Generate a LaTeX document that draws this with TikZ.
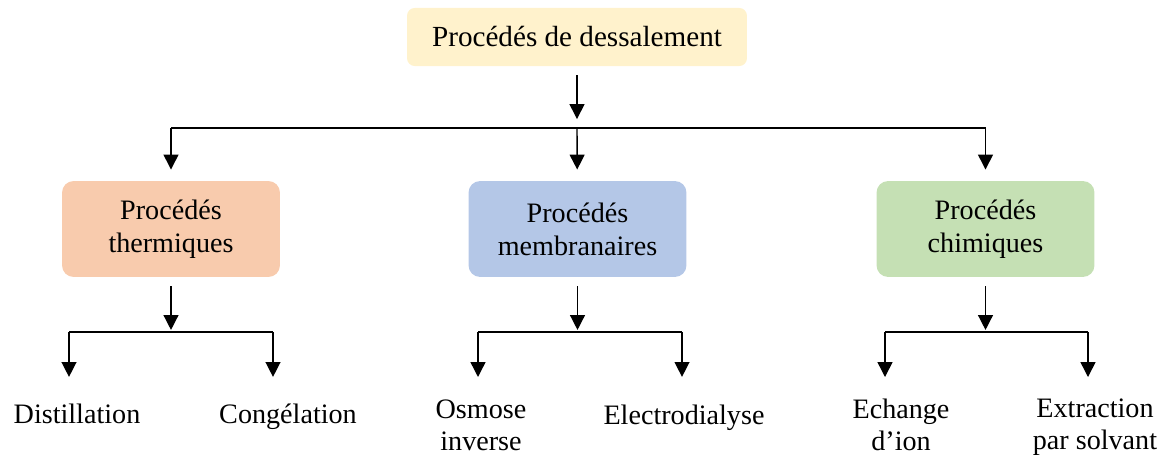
\documentclass[tikz,border=0pt]{standalone}
\usepackage{fontspec}
\setmainfont{Liberation Serif}
\usetikzlibrary{arrows.meta,positioning}

\definecolor{cdessal}{HTML}{FFF2CC}
\definecolor{cthermo}{HTML}{F8CBAD}
\definecolor{cmembra}{HTML}{B4C7E7}
\definecolor{cchimie}{HTML}{C5E0B4}

\tikzset{
    racine/.style={fill=cdessal, rounded corners=3pt, minimum width=132.9pt,
        minimum height=22.7pt, font=\fontsize{11.4}{13.5}\selectfont},
    famille/.style={rounded corners=4.5pt, minimum width=85.2pt,
        minimum height=37.5pt, align=center,
        font=\fontsize{11}{12.9}\selectfont},
    feuille/.style={anchor=north, inner sep=0pt, align=center,
        font=\fontsize{11}{12.8}\selectfont},
    fleche/.style={-{Triangle[length=5.8pt,width=5.8pt]}, line width=0.55pt},
    trait/.style={line width=0.55pt}
}

\begin{document}
\begin{tikzpicture}[x=0.391pt,y=-0.391pt]
\useasboundingbox (0,0) rectangle (1166,458);

% niveau 1
\node[racine] (dessal) at (577,37) {Procédés de dessalement};

% niveau 2
\node[famille, fill=cthermo] (thermo) at (171,229) {Procédés\\thermiques};
\node[famille, fill=cmembra] (membra) at (577.5,229) {Procédés\\membranaires};
\node[famille, fill=cchimie] (chimie) at (985.5,229) {Procédés\\chimiques};

% niveau 3
\node[feuille] (distil) at (77,403) {Distillation};
\node[feuille] (congel) at (288,403) {Congélation};
\node[feuille] (osmose) at (481,399) {Osmose\\inverse};
\node[feuille] (electro) at (684,404) {Electrodialyse};
\node[feuille] (echange) at (901,398) {Echange\\d’ion};
\node[feuille] (extract) at (1095,398) {Extraction\\par solvant};

% embranchements
\coordinate (hub) at (577,128);
\coordinate (hubT) at (171,332);
\coordinate (hubM) at (577.5,332);
\coordinate (hubC) at (985.5,332);
\coordinate (dT1) at (69,332);
\coordinate (dT2) at (273,332);
\coordinate (dM1) at (478,332);
\coordinate (dM2) at (682,332);
\coordinate (dC1) at (885,332);
\coordinate (dC2) at (1088,332);

\draw[fleche, shorten <=3.5pt, shorten >=3.5pt] (dessal) -- (hub);
\draw[trait] (thermo |- hub) -- (chimie |- hub);
\draw[fleche, shorten >=4.3pt] (thermo |- hub) -- (thermo);
\draw[fleche, shorten >=4.3pt] (hub) -- (membra);
\draw[fleche, shorten >=4.3pt] (chimie |- hub) -- (chimie);

\draw[fleche, shorten <=3.5pt, shorten >=0.8pt] (thermo) -- (hubT);
\draw[fleche, shorten <=3.5pt, shorten >=0.8pt] (membra) -- (hubM);
\draw[fleche, shorten <=3.5pt, shorten >=0.8pt] (chimie) -- (hubC);

\draw[trait] (dT1) -- (dT2);
\draw[trait] (dM1) -- (dM2);
\draw[trait] (dC1) -- (dC2);

\draw[fleche, shorten >=10.2pt] (dT1) -- (dT1 |- distil.north);
\draw[fleche, shorten >=10.2pt] (dT2) -- (dT2 |- congel.north);
\draw[fleche, shorten >=8.6pt] (dM1) -- (dM1 |- osmose.north);
\draw[fleche, shorten >=10.6pt] (dM2) -- (dM2 |- electro.north);
\draw[fleche, shorten >=8.2pt] (dC1) -- (dC1 |- echange.north);
\draw[fleche, shorten >=8.2pt] (dC2) -- (dC2 |- extract.north);
\end{tikzpicture}
\end{document}
